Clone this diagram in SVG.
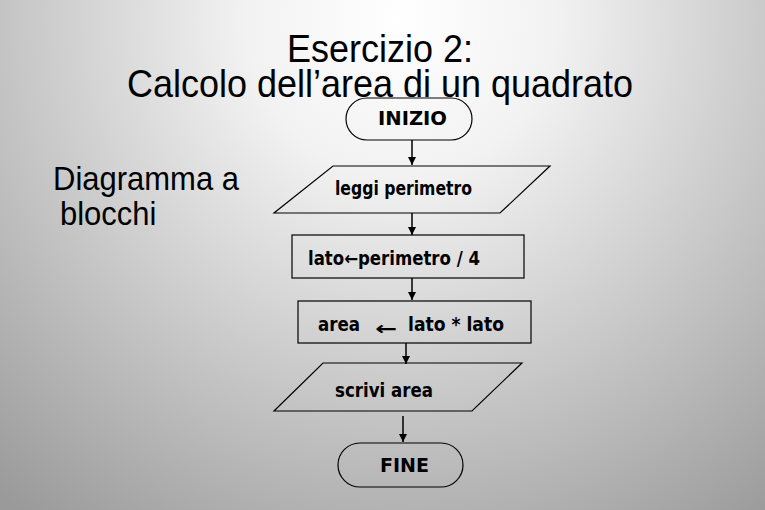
<svg xmlns="http://www.w3.org/2000/svg" width="765" height="510" viewBox="0 0 765 510">
<defs>
<radialGradient id="bg" cx="400" cy="20" r="620" gradientUnits="userSpaceOnUse">
<stop offset="0" stop-color="#ffffff"/>
<stop offset="0.25" stop-color="#f2f2f2"/>
<stop offset="1" stop-color="#9a9a9a"/>
</radialGradient>
<marker id="ah" viewBox="0 0 10 10" refX="10" refY="5" markerWidth="8" markerHeight="8" markerUnits="userSpaceOnUse" orient="auto">
<path d="M0,0 L10,5 L0,10 z" fill="#000"/>
</marker>
</defs>
<style>
.title{font-family:"Liberation Sans",Arial,sans-serif;font-size:36px;fill:#000}
.side{font-family:"Liberation Sans",Arial,sans-serif;font-size:31px;fill:#000}
.shape{fill:none;stroke:#000;stroke-width:1.2}
.lbl{font-family:"DejaVu Sans Condensed","DejaVu Sans",sans-serif;font-weight:bold;font-size:19px;fill:#000}
.conn{stroke:#000;stroke-width:1.5;fill:none;marker-end:url(#ah)}
</style>
<rect x="0" y="0" width="765" height="510" fill="url(#bg)"/>
<text class="title" transform="translate(380,62) scale(1,1.1)" text-anchor="middle"><tspan x="0" y="0">Esercizio 2:</tspan><tspan x="0" y="31.8">Calcolo dell’area di un quadrato</tspan></text>
<text class="side" transform="translate(53,190) scale(1,1.1)"><tspan x="0" y="0">Diagramma a</tspan><tspan x="7" y="31.8">blocchi</tspan></text>
<g id="connectors">
<line class="conn" x1="412" y1="140" x2="412" y2="165"/>
<line class="conn" x1="412" y1="213" x2="412" y2="235"/>
<line class="conn" x1="412" y1="278" x2="412" y2="300"/>
<line class="conn" x1="406" y1="343" x2="406" y2="364"/>
<line class="conn" x1="403" y1="416" x2="403" y2="442"/>
</g>
<g id="inizio">
<rect class="shape" x="346" y="98" width="126" height="42" rx="21" ry="21"/>
<text class="lbl" x="378" y="125" textLength="69" lengthAdjust="spacingAndGlyphs">INIZIO</text>
</g>
<g id="leggi">
<polygon class="shape" points="333,166 550,166 500,213 274,213"/>
<text class="lbl" x="335" y="195" textLength="137" lengthAdjust="spacingAndGlyphs">leggi perimetro</text>
</g>
<g id="lato">
<rect class="shape" x="292" y="235" width="232" height="43"/>
<text class="lbl" x="308" y="265" textLength="172" lengthAdjust="spacingAndGlyphs">lato←perimetro / 4</text>
</g>
<g id="area">
<rect class="shape" x="298" y="301" width="233" height="42"/>
<text class="lbl" x="318" y="331" textLength="42" lengthAdjust="spacingAndGlyphs">area</text>
<text class="lbl" x="375" y="335" textLength="22" lengthAdjust="spacingAndGlyphs">←</text>
<text class="lbl" x="408" y="331" textLength="96" lengthAdjust="spacingAndGlyphs">lato * lato</text>
</g>
<g id="scrivi">
<polygon class="shape" points="323,363 522,363 472,411 274,411"/>
<text class="lbl" x="335" y="397" textLength="98" lengthAdjust="spacingAndGlyphs">scrivi area</text>
</g>
<g id="fine">
<rect class="shape" x="338" y="443" width="125" height="44" rx="22" ry="22"/>
<text class="lbl" x="380" y="472" textLength="49" lengthAdjust="spacingAndGlyphs">FINE</text>
</g>
</svg>
